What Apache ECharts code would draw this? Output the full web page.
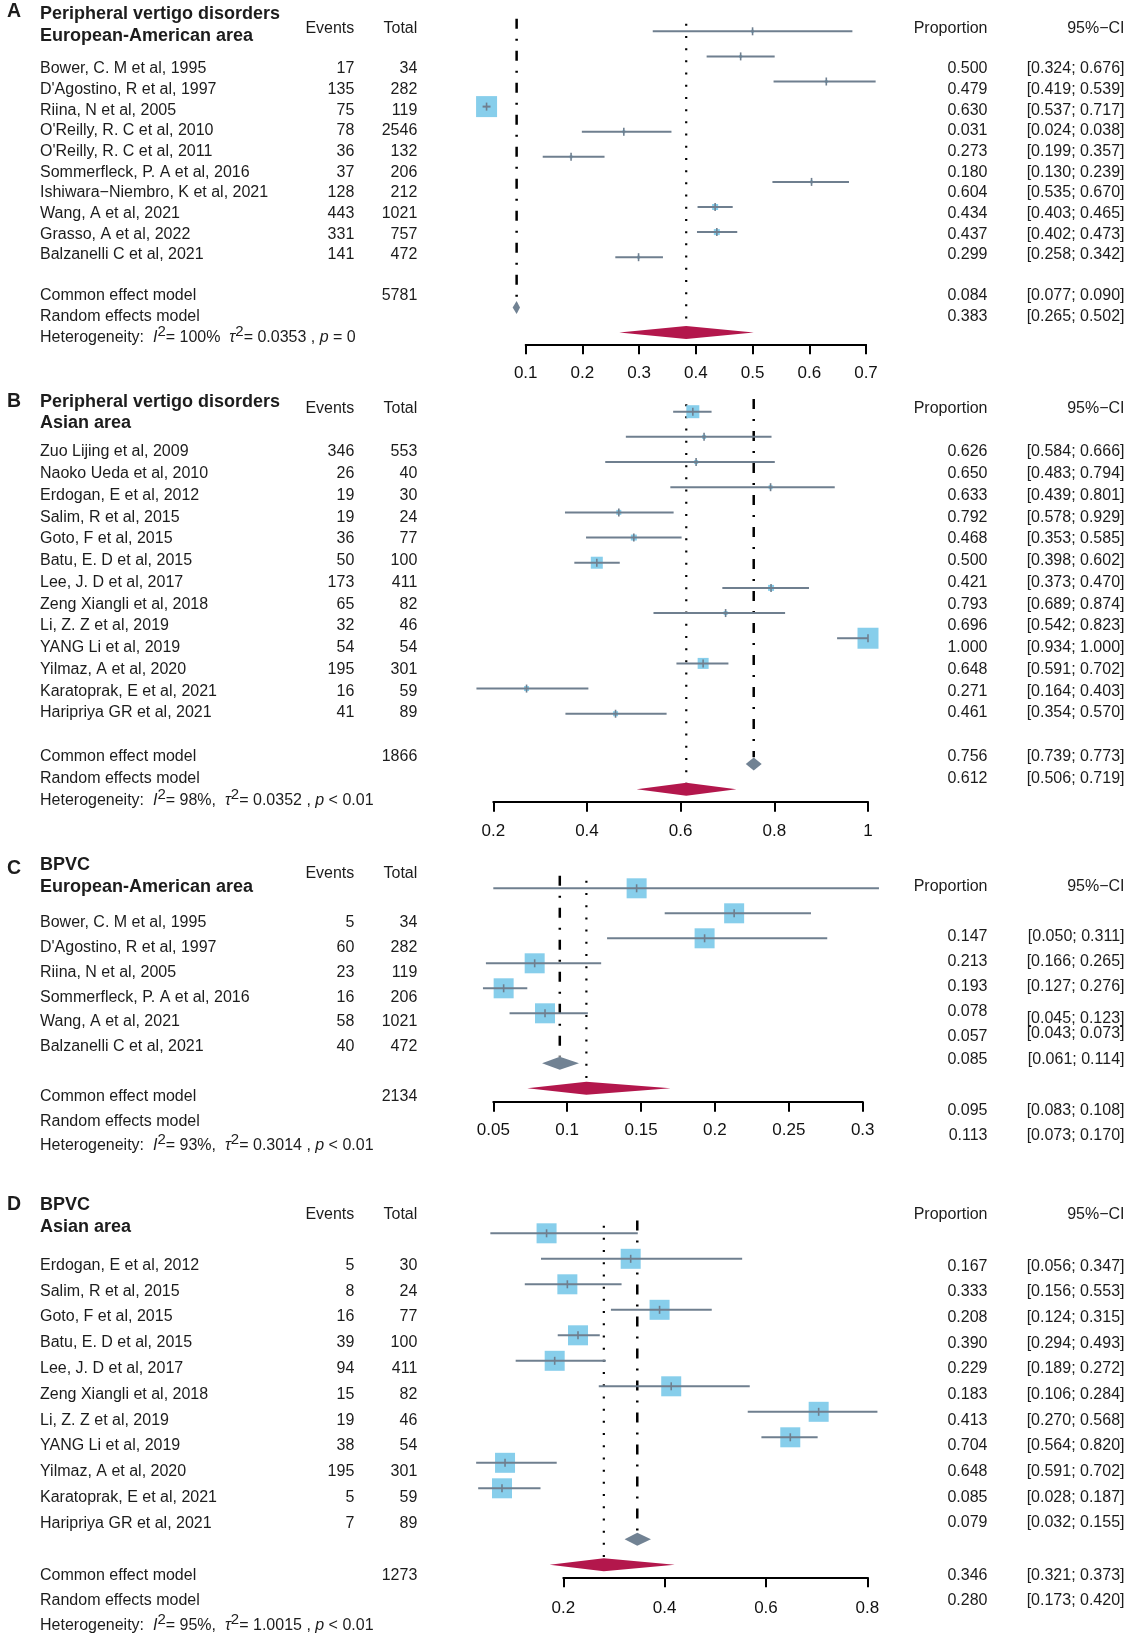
<!DOCTYPE html>
<html><head><meta charset="utf-8">
<script src="https://cdn.jsdelivr.net/npm/echarts@6/dist/echarts.min.js"></script>
<style>html,body{margin:0;padding:0;background:#fff}#c{width:1127px;height:1637px}</style>
</head><body><div id="c"></div>
<script>
// ================= DATA =================
// Panel A – Peripheral vertigo disorders, European-American area
const A_studies = ["Bower, C. M et al, 1995","D'Agostino, R et al, 1997","Riina, N et al, 2005","O'Reilly, R. C et al, 2010","O'Reilly, R. C et al, 2011","Sommerfleck, P. A et al, 2016","Ishiwara\u2212Niembro, K et al, 2021","Wang, A et al, 2021","Grasso, A et al, 2022","Balzanelli C et al, 2021"];
const A_events = [17,135,75,78,36,37,128,443,331,141];
const A_totals = [34,282,119,2546,132,206,212,1021,757,472];
const A_prop   = [0.500,0.479,0.630,0.031,0.273,0.180,0.604,0.434,0.437,0.299];
const A_lower  = [0.324,0.419,0.537,0.024,0.199,0.130,0.535,0.403,0.402,0.258];
const A_upper  = [0.676,0.539,0.717,0.038,0.357,0.239,0.670,0.465,0.473,0.342];
const A_weight = [1,1,1,7,1,1,1,2,2,1];
const A_common = [0.084,0.077,0.090];
const A_random = [0.383,0.265,0.502];
const A_totalN = 5781;
const A_het = ["100%", "0.0353", "= 0"];
const A_axis = [0.1, 0.7, 0.1];

// Panel B – Peripheral vertigo disorders, Asian area
const B_studies = ["Zuo Lijing et al, 2009","Naoko Ueda et al, 2010","Erdogan, E et al, 2012","Salim, R et al, 2015","Goto, F et al, 2015","Batu, E. D et al, 2015","Lee, J. D et al, 2017","Zeng Xiangli et al, 2018","Li, Z. Z et al, 2019","YANG Li et al, 2019","Yilmaz, A et al, 2020","Karatoprak, E et al, 2021","Haripriya GR et al, 2021"];
const B_events = [346,26,19,19,36,50,173,65,32,54,195,16,41];
const B_totals = [553,40,30,24,77,100,411,82,46,54,301,59,89];
const B_prop   = [0.626,0.650,0.633,0.792,0.468,0.500,0.421,0.793,0.696,1.000,0.648,0.271,0.461];
const B_lower  = [0.584,0.483,0.439,0.578,0.353,0.398,0.373,0.689,0.542,0.934,0.591,0.164,0.354];
const B_upper  = [0.666,0.794,0.801,0.929,0.585,0.602,0.470,0.874,0.823,1.000,0.702,0.403,0.570];
const B_weight = [13,4,4,4,5,6,12,6,4,21,11,5,5];
const B_common = [0.756,0.739,0.773];
const B_random = [0.612,0.506,0.719];
const B_totalN = 1866;
const B_het = ["98%,", "0.0352", "< 0.01"];
const B_axis = [0.2, 1.0, 0.2];

// Panel C – BPVC, European-American area
const C_studies = ["Bower, C. M et al, 1995","D'Agostino, R et al, 1997","Riina, N et al, 2005","Sommerfleck, P. A et al, 2016","Wang, A et al, 2021","Balzanelli C et al, 2021"];
const C_events = [5,60,23,16,58,40];
const C_totals = [34,282,119,206,1021,472];
const C_prop   = [0.147,0.213,0.193,0.078,0.057,0.085];
const C_lower  = [0.050,0.166,0.127,0.045,0.043,0.061];
const C_upper  = [0.311,0.265,0.276,0.123,0.073,0.114];
const C_weight = [1,1,1,1,1,1];
const C_common = [0.095,0.083,0.108];
const C_random = [0.113,0.073,0.170];
const C_totalN = 2134;
const C_het = ["93%,", "0.3014", "< 0.01"];
const C_axis = [0.05, 0.3, 0.05];

// Panel D – BPVC, Asian area
const D_studies = ["Erdogan, E et al, 2012","Salim, R et al, 2015","Goto, F et al, 2015","Batu, E. D et al, 2015","Lee, J. D et al, 2017","Zeng Xiangli et al, 2018","Li, Z. Z et al, 2019","YANG Li et al, 2019","Yilmaz, A et al, 2020","Karatoprak, E et al, 2021","Haripriya GR et al, 2021"];
const D_events = [5,8,16,39,94,15,19,38,195,5,7];
const D_totals = [30,24,77,100,411,82,46,54,301,59,89];
const D_prop   = [0.167,0.333,0.208,0.390,0.229,0.183,0.413,0.704,0.648,0.085,0.079];
const D_lower  = [0.056,0.156,0.124,0.294,0.189,0.106,0.270,0.564,0.591,0.028,0.032];
const D_upper  = [0.347,0.553,0.315,0.493,0.272,0.284,0.568,0.820,0.702,0.187,0.155];
const D_weight = [1,1,1,1,1,1,1,1,1,1,1];
const D_common = [0.346,0.321,0.373];
const D_random = [0.280,0.173,0.420];
const D_totalN = 1273;
const D_het = ["95%,", "1.0015", "< 0.01"];
const D_axis = [0.2, 0.8, 0.2];

// ================= STRUCTURE =================
const panels = [
  {letter:'A', title:['Peripheral vertigo disorders','European-American area'], studies:A_studies, events:A_events, totals:A_totals, prop:A_prop, lo:A_lower, hi:A_upper, weight:A_weight, common:A_common, random:A_random, totalN:A_totalN, het:A_het, axis:A_axis},
  {letter:'B', title:['Peripheral vertigo disorders','Asian area'], studies:B_studies, events:B_events, totals:B_totals, prop:B_prop, lo:B_lower, hi:B_upper, weight:B_weight, common:B_common, random:B_random, totalN:B_totalN, het:B_het, axis:B_axis},
  {letter:'C', title:['BPVC','European-American area'], studies:C_studies, events:C_events, totals:C_totals, prop:C_prop, lo:C_lower, hi:C_upper, weight:C_weight, common:C_common, random:C_random, totalN:C_totalN, het:C_het, axis:C_axis},
  {letter:'D', title:['BPVC','Asian area'], studies:D_studies, events:D_events, totals:D_totals, prop:D_prop, lo:D_lower, hi:D_upper, weight:D_weight, common:D_common, random:D_random, totalN:D_totalN, het:D_het, axis:D_axis}
];

// ================= LAYOUT =================
function seq(n, y0, step){ return Array.from({length:n}, (_, i) => y0 + i*step); }
const layouts = [
  {x0:525.7, x1:866, row0:31.3, step:25.1, axisY:344.3, margin:21, wScale:3,
   letterY:12, t1:14, t2:35.7, head:29, rowsY:seq(10,69,20.67), commonY:296, randomY:317, hetY:338,
   pHead:29, propY:seq(10,69,20.67), ciY:seq(10,69,20.67), pCommonY:296, pRandomY:317},
  {x0:493.3, x1:868, row0:411.7, step:25.17, axisY:801.7, margin:21, wScale:1,
   letterY:401.7, t1:401.7, t2:423.3, head:408.5, rowsY:seq(13,452,21.75), commonY:757, randomY:778.5, hetY:801,
   pHead:408.5, propY:seq(13,452,21.75), ciY:seq(13,452,21.75), pCommonY:757, pRandomY:778.5},
  {x0:493.3, x1:862.7, row0:888.3, step:25, axisY:1101.7, margin:20.5, wScale:20,
   letterY:869, t1:865, t2:886.7, head:873.5, rowsY:seq(6,922.5,24.87), commonY:1097, randomY:1121.5, hetY:1146,
   pHead:887, propY:[937,962,986.7,1012,1037,1060], ciY:[937,962,986.7,1018.5,1034,1060], pCommonY:1110.5, pRandomY:1135.5},
  {x0:563.3, x1:867.3, row0:1233.3, step:25.5, axisY:1577.3, margin:23, wScale:20,
   letterY:1205, t1:1205, t2:1226.7, head:1214.5, rowsY:seq(11,1265.5,25.77), commonY:1575.5, randomY:1601, hetY:1626,
   pHead:1214.5, propY:seq(11,1266.2,25.66), ciY:seq(11,1266.2,25.66), pCommonY:1575.5, pRandomY:1601}
];
const COL = {name:40, events:354.3, total:417.3, prop:987.5, ci:1124.5};

const FONT = '"Liberation Sans", Arial, Helvetica, sans-serif';
const TXT = '#1c1c1c';
const CI_COL = '#6F7F8F';
const SQ_COL = '#87CEEB';
const GRAY_D = '#718293';
const RED_D = '#B3174C';

function txt(x, y, text, extra){
  return {type:'text', x:x, y:y, silent:true, z:10,
    style:Object.assign({text:String(text), fill:TXT, fontSize:16, fontFamily:FONT, align:'left', verticalAlign:'middle'}, extra||{})};
}
function hetText(x, y, h){
  const t = '{n|Heterogeneity:  }{i|I}{s|2}{n|= ' + h[0] + '  }{i|\u03c4}{s|2}{n|= ' + h[1] + ' , }{i|p}{n| ' + h[2] + '}';
  return {type:'text', x:x, y:y, silent:true, z:10,
    style:{text:t, fill:TXT, fontSize:16, fontFamily:FONT, align:'left', verticalAlign:'middle',
      rich:{
        n:{fontSize:16, fontFamily:FONT, fill:TXT},
        i:{fontSize:16, fontFamily:FONT, fontStyle:'italic', fill:TXT},
        s:{fontSize:15, fontFamily:FONT, fill:TXT, padding:[0,0,12,0]}
      }}};
}
const fmt = v => v.toFixed(3);

const grids = [], xAxes = [], yAxes = [], series = [], graphics = [];

panels.forEach((p, gi) => {
  const L = layouts[gi];
  const n = p.studies.length;
  const rowC = n + 1, rowR = n + 2;
  const yMax = (L.axisY - L.row0) / L.step;
  grids.push({left:L.x0, width:L.x1 - L.x0, top:L.row0 - L.step, height:L.axisY - (L.row0 - L.step), containLabel:false});
  xAxes.push({gridIndex:gi, type:'value', min:p.axis[0], max:p.axis[1], interval:p.axis[2], position:'bottom',
    axisLine:{show:true, onZero:false, lineStyle:{color:'#000', width:2}},
    axisTick:{show:true, length:10, inside:false, lineStyle:{color:'#000', width:2}},
    axisLabel:{fontSize:17, color:'#111', fontFamily:FONT, margin:L.margin, showMinLabel:true, showMaxLabel:true},
    splitLine:{show:false}});
  yAxes.push({gridIndex:gi, type:'value', inverse:true, min:-1, max:yMax, show:false, splitLine:{show:false}});

  // kind: 0 study, 1 common diamond, 2 random diamond, 3 common line, 4 random line
  const data = [];
  data.push([p.common[0], -0.5, rowC - 0.27, 0, 0, 3]);
  data.push([p.random[0], -0.3, rowR - 0.27, 0, 0, 4]);
  p.prop.forEach((v, i) => data.push([v, i, p.lo[i], p.hi[i], p.weight[i] * L.wScale, 0]));
  data.push([p.common[0], rowC, p.common[1], p.common[2], 0, 1]);
  data.push([p.random[0], rowR, p.random[1], p.random[2], 0, 2]);

  series.push({type:'custom', xAxisIndex:gi, yAxisIndex:gi, clip:false, silent:true,
    encode:{x:0, y:1}, data:data,
    renderItem:function(params, api){
      const kind = api.value(5);
      const est = api.value(0);
      if (kind === 3 || kind === 4) {
        const a = api.coord([est, api.value(1)]);
        const b = api.coord([est, api.value(2)]);
        return {type:'line', shape:{x1:a[0], y1:a[1], x2:b[0], y2:b[1]},
          style:{stroke:'#000', lineWidth:kind === 3 ? 2.5 : 2.2,
                 lineDash:kind === 3 ? [10,10,2,10] : [2,10.2], lineCap:'butt'}};
      }
      const row = api.value(1);
      const c = api.coord([est, row]);
      const l = api.coord([api.value(2), row]);
      const h = api.coord([api.value(3), row]);
      if (kind === 0) {
        const s = api.value(4);
        return {type:'group', children:[
          {type:'rect', shape:{x:c[0]-s/2, y:c[1]-s/2, width:s, height:s}, style:{fill:SQ_COL}},
          {type:'line', shape:{x1:l[0], y1:c[1], x2:h[0], y2:c[1]}, style:{stroke:CI_COL, lineWidth:2}},
          {type:'line', shape:{x1:c[0], y1:c[1]-4, x2:c[0], y2:c[1]+4}, style:{stroke:CI_COL, lineWidth:1.6}}
        ]};
      }
      const hh = 6.5;
      return {type:'polygon', shape:{points:[[l[0],c[1]],[c[0],c[1]-hh],[h[0],c[1]],[c[0],c[1]+hh]]},
        style:{fill:kind === 1 ? GRAY_D : RED_D}};
    }});

  // ---- text table ----
  graphics.push(txt(7, L.letterY, p.letter, {fontSize:19.5, fontWeight:'bold'}));
  graphics.push(txt(COL.name, L.t1, p.title[0], {fontSize:18, fontWeight:'bold'}));
  graphics.push(txt(COL.name, L.t2, p.title[1], {fontSize:18, fontWeight:'bold'}));
  graphics.push(txt(COL.events, L.head, 'Events', {align:'right'}));
  graphics.push(txt(COL.total, L.head, 'Total', {align:'right'}));
  graphics.push(txt(COL.prop, L.pHead, 'Proportion', {align:'right'}));
  graphics.push(txt(COL.ci, L.pHead, '95%\u2212CI', {align:'right'}));
  p.studies.forEach((s, i) => {
    graphics.push(txt(COL.name, L.rowsY[i], s));
    graphics.push(txt(COL.events, L.rowsY[i], p.events[i], {align:'right'}));
    graphics.push(txt(COL.total, L.rowsY[i], p.totals[i], {align:'right'}));
    graphics.push(txt(COL.prop, L.propY[i], fmt(p.prop[i]), {align:'right'}));
    graphics.push(txt(COL.ci, L.ciY[i], '[' + fmt(p.lo[i]) + '; ' + fmt(p.hi[i]) + ']', {align:'right'}));
  });
  graphics.push(txt(COL.name, L.commonY, 'Common effect model'));
  graphics.push(txt(COL.total, L.commonY, p.totalN, {align:'right'}));
  graphics.push(txt(COL.name, L.randomY, 'Random effects model'));
  graphics.push(hetText(COL.name, L.hetY, p.het));
  graphics.push(txt(COL.prop, L.pCommonY, fmt(p.common[0]), {align:'right'}));
  graphics.push(txt(COL.ci, L.pCommonY, '[' + fmt(p.common[1]) + '; ' + fmt(p.common[2]) + ']', {align:'right'}));
  graphics.push(txt(COL.prop, L.pRandomY, fmt(p.random[0]), {align:'right'}));
  graphics.push(txt(COL.ci, L.pRandomY, '[' + fmt(p.random[1]) + '; ' + fmt(p.random[2]) + ']', {align:'right'}));
});

const chart = echarts.init(document.getElementById('c'), null, {renderer:'canvas'});
chart.setOption({
  animation:false,
  backgroundColor:'#ffffff',
  grid:grids, xAxis:xAxes, yAxis:yAxes, series:series,
  graphic:{elements:graphics}
});
</script>
</body></html>
